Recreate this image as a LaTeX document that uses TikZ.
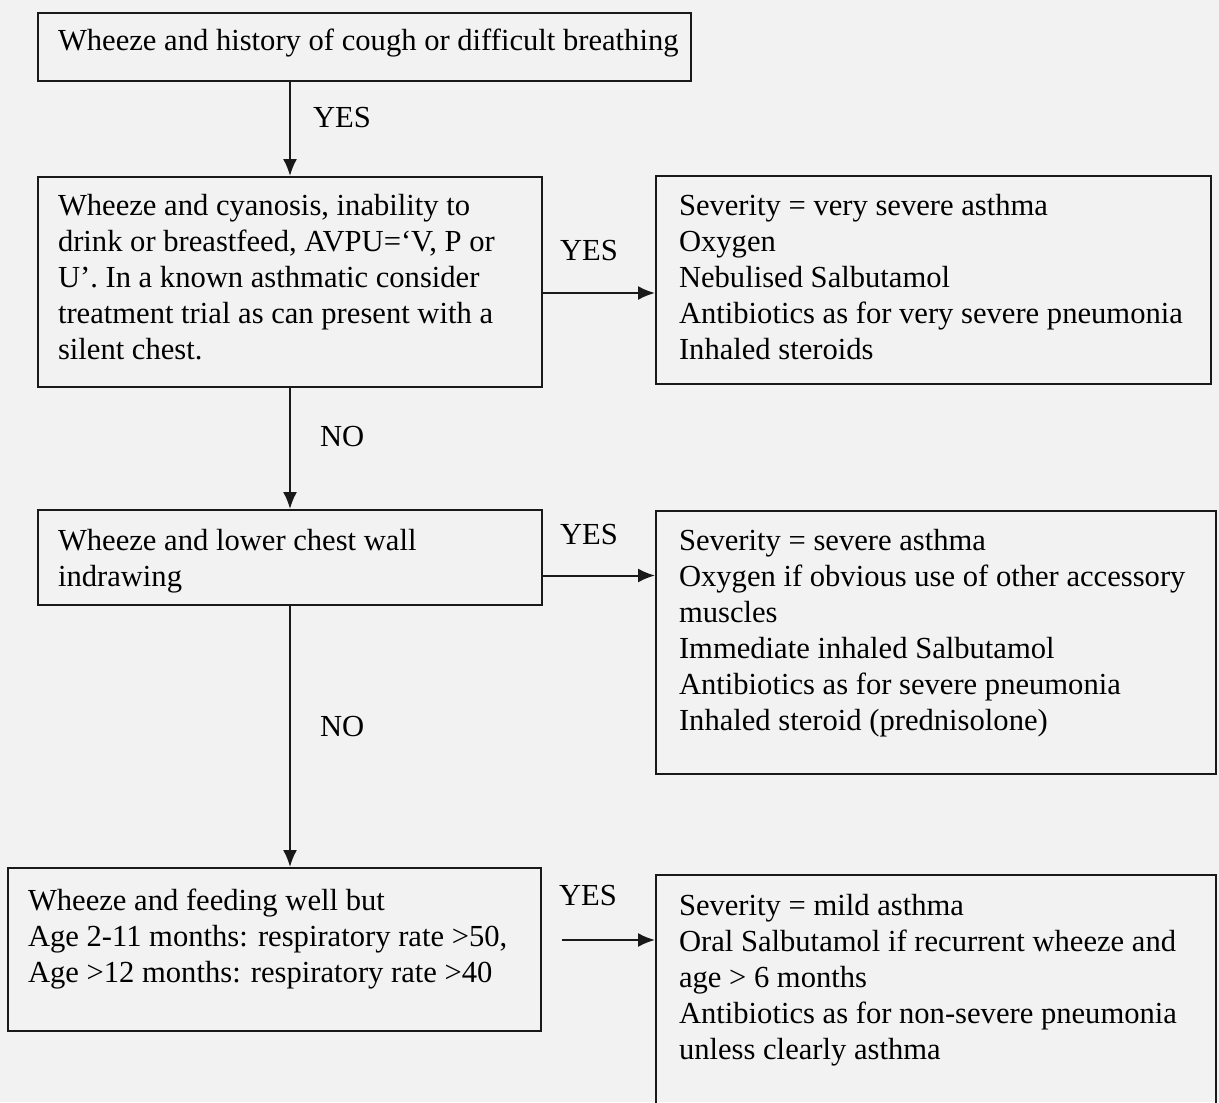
\documentclass[tikz,border=0pt]{standalone}
\usepackage{fontspec}
\setmainfont{Liberation Serif}
\usetikzlibrary{arrows,arrows.meta}
\usetikzlibrary{positioning}

\begin{document}
\begin{tikzpicture}[%
        x=0.5pt, y=-0.5pt,
        box/.style={draw, anchor=north west, inner sep=0pt},
        txt/.style={align=left, inner sep=0pt, font=\fontsize{15.3}{18}\selectfont},
        lbl/.style={inner sep=0pt, font=\fontsize{15.3}{18}\selectfont},
        line width=1pt, draw=black!90, text=black, >={Latex[length=8.5pt,width=7pt]}
      ]
      \useasboundingbox [fill=black!5] (0,0) rectangle (1219,1102);
      \clip (0,0) rectangle (1219,1102);
      % question boxes
      \node [box, minimum width=326.5pt, minimum height=34pt] (q1) at (37,12) {};
      \node [box, minimum width=252pt, minimum height=105pt] (q2) at (37,176) {};
      \node [box, minimum width=252pt, minimum height=47.5pt] (q3) at (37,509) {};
      \node [box, minimum width=266.5pt, minimum height=81.5pt] (q4) at (7,867) {};
      % treatment boxes
      \node [box, minimum width=277.5pt, minimum height=104pt] (r2) at (655,175) {};
      \node [box, minimum width=280pt, minimum height=131.5pt] (r3) at (655,510) {};
      \node [box, minimum width=280pt, minimum height=127.5pt] (r4) at (655,874) {};
      % texts
      \node [txt, below right=8pt and 10pt of q1.north west] (t1)
        {Wheeze and history of cough or difficult breathing};
      \node [txt, below right=8.5pt and 10pt of q2.north west] (t2)
        {Wheeze and cyanosis, inability to\\drink or breastfeed, AVPU=`V, P or\\U'. In a known asthmatic consider\\treatment trial as can present with a\\silent chest.};
      \node [txt, below right=9.5pt and 10pt of q3.north west] (t3)
        {Wheeze and lower chest wall\\indrawing};
      \node [txt, below right=10.5pt and 10pt of q4.north west] (t4)
        {Wheeze and feeding well but\\Age 2-11 months: respiratory rate >50,\\Age >12 months: respiratory rate >40};
      \node [txt, below right=9pt and 11.5pt of r2.north west] (s2)
        {Severity = very severe asthma\\Oxygen\\Nebulised Salbutamol\\Antibiotics as for very severe pneumonia\\Inhaled steroids};
      \node [txt, below right=9pt and 11.5pt of r3.north west] (s3)
        {Severity = severe asthma\\Oxygen if obvious use of other accessory\\muscles\\Immediate inhaled Salbutamol\\Antibiotics as for severe pneumonia\\Inhaled steroid (prednisolone)};
      \node [txt, below right=9.5pt and 11.5pt of r4.north west] (s4)
        {Severity = mild asthma\\Oral Salbutamol if recurrent wheeze and\\age > 6 months\\Antibiotics as for non-severe pneumonia\\unless clearly asthma};
      % connectors
      \coordinate (a2) at ([yshift=-5.5pt]q2.east);
      \coordinate (a3) at ([yshift=-9pt]q3.east);
      \coordinate (a4) at (562,940);
      \draw [->] (q2.north |- q1.south) -- node [lbl, pos=0.38, right=11pt] (y1) {YES} (q2.north);
      \draw [->] (q2.south) -- node [lbl, pos=0.4, right=14.5pt] (n1) {NO} (q3.north);
      \draw [->] (q3.south) -- node [lbl, pos=0.46, right=14.5pt] (n2) {NO} (q3.south |- q4.north);
      \draw [->] (a2) -- node [lbl, pos=0.41, above=15.5pt] (y2) {YES} (a2 -| r2.west);
      \draw [->] (a3) -- node [lbl, pos=0.41, above=15pt] (y3) {YES} (a3 -| r3.west);
      \draw [->] (a4) -- node [lbl, pos=0.28, above=16.5pt] (y4) {YES} (a4 -| r4.west);
    \end{tikzpicture}
\end{document}
